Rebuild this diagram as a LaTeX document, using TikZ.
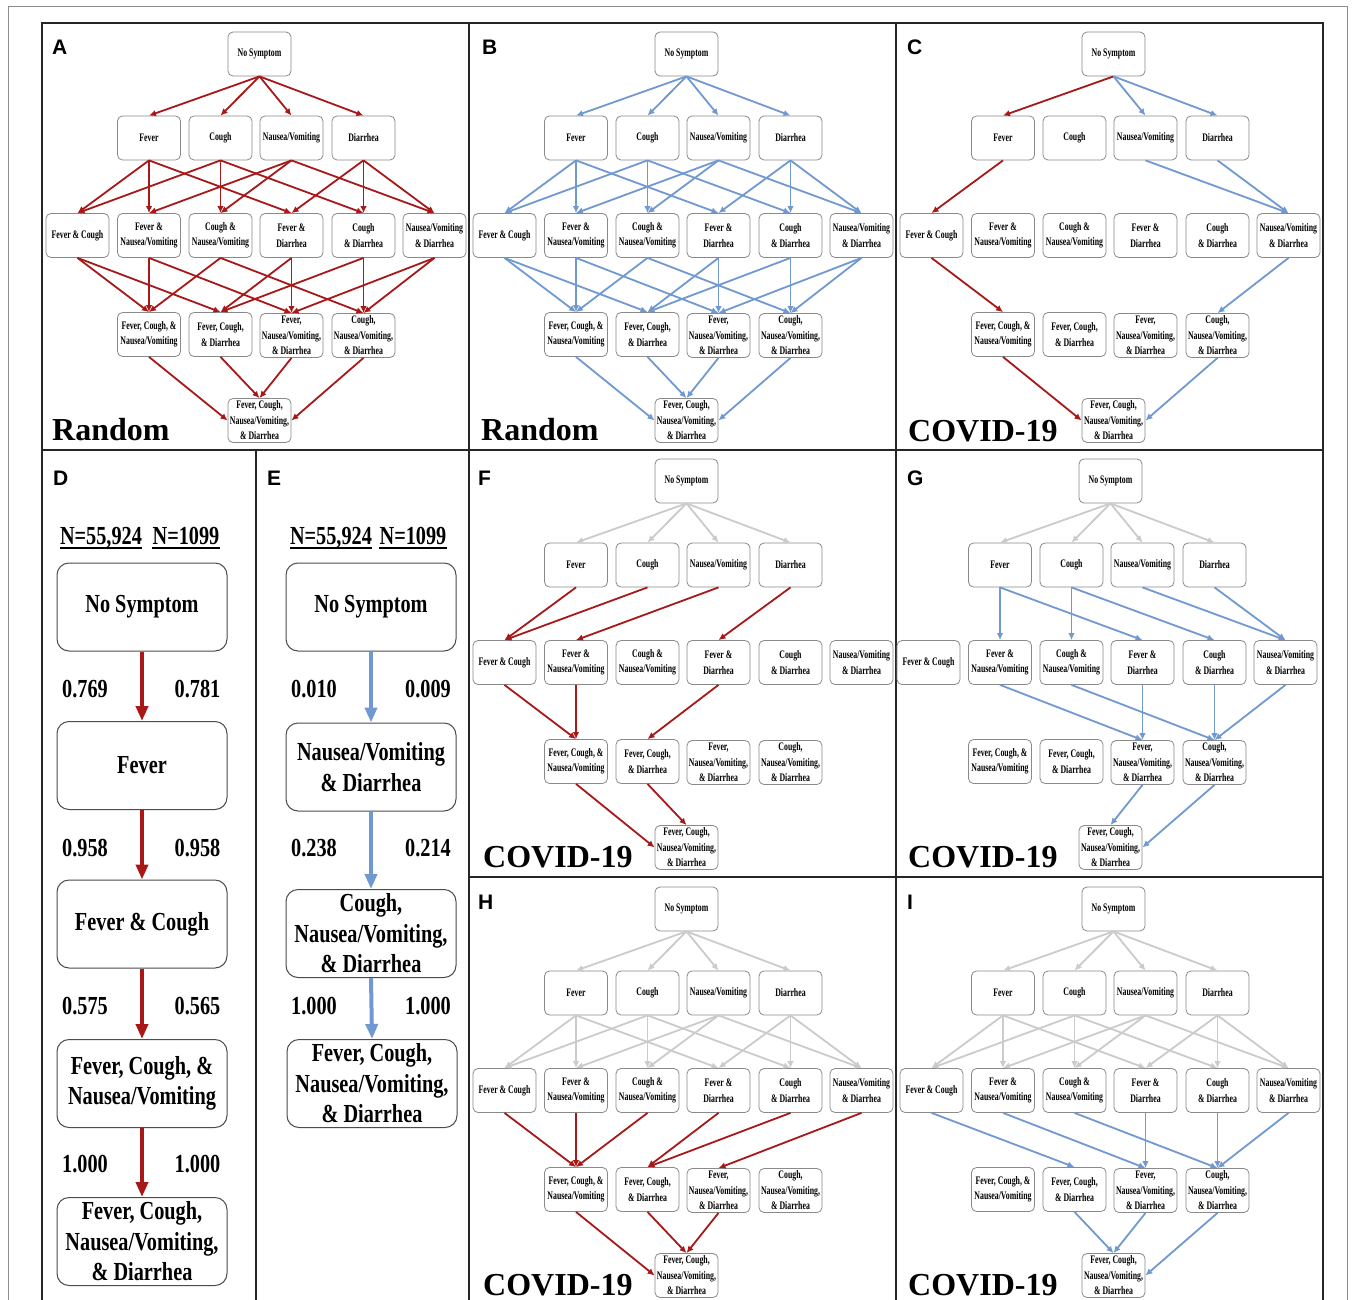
\documentclass[tikz,border=0pt]{standalone}
\usepackage{fontspec}
\setmainfont{Liberation Serif}
\newfontfamily\condf[FakeStretch=0.68]{Liberation Serif}
\newfontfamily\bigf[FakeStretch=0.78]{Liberation Serif}
\newfontfamily\labf{Liberation Sans}
\usetikzlibrary{arrows.meta}
\definecolor{cred}{HTML}{A81818}
\definecolor{cblue}{HTML}{7099D2}
\definecolor{cgray}{HTML}{CBCBCB}
\definecolor{cbox}{HTML}{8A8A8A}
\tikzset{
  sbox/.style={draw=cbox, line width=0.8pt, rounded corners=5pt, minimum width=63pt, minimum height=44pt, inner sep=0pt, align=center, fill=white, font=\condf\bfseries\fontsize{11.5}{15.5}\selectfont},
  bbox/.style={draw=black!70, line width=1pt, rounded corners=12pt, minimum width=170pt, minimum height=88pt, inner sep=0pt, align=center, font=\bigf\bfseries\fontsize{26}{30.5}\selectfont},
  numtxt/.style={inner sep=0pt, anchor=base, font=\bigf\bfseries\fontsize{26}{30}\selectfont},
  ar/.style={line width=1.8pt, -{Latex[length=7pt,width=6.5pt]}},
  rar/.style={ar, draw=cred},
  bar/.style={ar, draw=cblue},
  gar/.style={ar, draw=cgray},
  bigar/.style={line width=4pt, -{Triangle[length=15pt,width=12pt]}},
  plab/.style={inner sep=0pt, anchor=base west, font=\labf\bfseries\fontsize{21}{21}\selectfont},
  title/.style={inner sep=0pt, anchor=base west, font=\bfseries\fontsize{32}{32}\selectfont},
}
\newcommand\mklattice[3]{%
  \begin{scope}[shift={(#2,#3)}]
  \node[sbox] (#1-ns) at (217.5,31) {No Symptom};
  \node[sbox] (#1-F) at (107,115) {Fever};
  \node[sbox] (#1-C) at (178.5,115) {Cough};
  \node[sbox] (#1-N) at (249.5,115) {Nausea/Vomiting};
  \node[sbox] (#1-D) at (321.5,115) {Diarrhea};
  \node[sbox] (#1-FC) at (35.5,212.5) {Fever \& Cough};
  \node[sbox] (#1-FN) at (107,212.5) {Fever \&\\Nausea/Vomiting};
  \node[sbox] (#1-CN) at (178.5,212.5) {Cough \&\\Nausea/Vomiting};
  \node[sbox] (#1-FD) at (249.5,212.5) {Fever \&\\Diarrhea};
  \node[sbox] (#1-CD) at (321.5,212.5) {Cough\\\& Diarrhea};
  \node[sbox] (#1-ND) at (392.5,212.5) {Nausea/Vomiting\\\& Diarrhea};
  \node[sbox] (#1-FCN) at (107,311.5) {Fever, Cough, \&\\Nausea/Vomiting};
  \node[sbox] (#1-FCD) at (178.5,311.5) {Fever, Cough,\\\& Diarrhea};
  \node[sbox] (#1-FND) at (249.5,312.5) {Fever,\\Nausea/Vomiting,\\\& Diarrhea};
  \node[sbox] (#1-CND) at (321.5,312.5) {Cough,\\Nausea/Vomiting,\\\& Diarrhea};
  \node[sbox] (#1-all) at (217.5,397.5) {Fever, Cough,\\Nausea/Vomiting,\\\& Diarrhea};
  \end{scope}}
\newcommand\toprow[2]{\foreach \pb in {F,C,N,D} {\draw[#1] (#2-ns.south) -- (#2-\pb.north);}}
\newcommand\midrows[2]{\foreach \pa/\pb in {F/FC,F/FN,F/FD,C/FC,C/CN,C/CD,N/FN,N/CN,N/ND,D/FD,D/CD,D/ND} {\draw[#1] (#2-\pa.south) -- (#2-\pb.north);}}
\newcommand\lowrows[2]{\foreach \pa/\pb in {FC/FCN,FC/FCD,FN/FCN,FN/FND,CN/FCN,CN/CND,FD/FCD,FD/FND,CD/FCD,CD/CND,ND/FND,ND/CND} {\draw[#1] (#2-\pa.south) -- (#2-\pb.north);}}
\newcommand\lastrow[2]{\draw[#1] (#2-FCN.south) -- (#2-all.west);
  \draw[#1] (#2-FCD.south) -- (#2-all.north);
  \draw[#1] (#2-FND.south) -- (#2-all.north);
  \draw[#1] (#2-CND.south) -- (#2-all.east);}
\newcommand\ed[4]{\draw[#1] (#2-#3.south) -- (#2-#4.north);}
\begin{document}
\begin{tikzpicture}[x=1pt,y=-1pt]
\useasboundingbox (0,0) rectangle (1357,1300);
\fill[white] (0,0) rectangle (1357,1300);
% frames
\draw[black!45, line width=0.8pt] (8,6) rectangle (1347,1330);
\draw[black!85, line width=1.6pt] (42,23) rectangle (1323,1330);
\draw[black!85, line width=1.6pt] (42,450) -- (1323,450);
\draw[black!85, line width=1.6pt] (469,877) -- (1323,877);
\draw[black!85, line width=1.6pt] (469,23) -- (469,1330);
\draw[black!85, line width=1.6pt] (896,23) -- (896,1330);
\draw[black!85, line width=1.6pt] (256,450) -- (256,1330);
% panel labels and titles
\node[plab] (lA) at (52,55) {A};
\node[plab] (lB) at (482,55) {B};
\node[plab] (lC) at (907,55) {C};
\node[plab] (lD) at (53,485) {D};
\node[plab] (lE) at (267,485) {E};
\node[plab] (lF) at (478,485) {F};
\node[plab] (lG) at (907,485) {G};
\node[plab] (lH) at (478,909) {H};
\node[plab] (lI) at (907,909) {I};
\node[title] (tA) at (52,440) {Random};
\node[title] (tB) at (481,440) {Random};
\node[title] (tC) at (908,441) {COVID-19};
\node[title] (tF) at (483,867) {COVID-19};
\node[title] (tG) at (908,867) {COVID-19};
\node[title] (tH) at (483,1295) {COVID-19};
\node[title] (tI) at (908,1295) {COVID-19};
% lattices
\mklattice{A}{42}{23}
\mklattice{B}{469}{23}
\mklattice{C}{896}{23}
\mklattice{F}{469}{450}
\mklattice{G}{893}{450}
\mklattice{H}{469}{878}
\mklattice{I}{896}{878}
% A: all red
\toprow{rar}{A}\midrows{rar}{A}\lowrows{rar}{A}\lastrow{rar}{A}
% B: all blue
\toprow{bar}{B}\midrows{bar}{B}\lowrows{bar}{B}\lastrow{bar}{B}
% C
\ed{rar}{C}{ns}{F}\ed{rar}{C}{F}{FC}\ed{rar}{C}{FC}{FCN}
\draw[rar] (C-FCN.south) -- (C-all.west);
\ed{bar}{C}{ns}{N}\ed{bar}{C}{ns}{D}\ed{bar}{C}{N}{ND}\ed{bar}{C}{D}{ND}\ed{bar}{C}{ND}{CND}
\draw[bar] (C-CND.south) -- (C-all.east);
% F
\toprow{gar}{F}
\ed{rar}{F}{F}{FC}\ed{rar}{F}{C}{FC}\ed{rar}{F}{N}{FN}\ed{rar}{F}{D}{FD}
\ed{rar}{F}{FC}{FCN}\ed{rar}{F}{FN}{FCN}\ed{rar}{F}{FD}{FCD}
\draw[rar] (F-FCN.south) -- (F-all.west);
\draw[rar] (F-FCD.south) -- (F-all.north);
% G
\toprow{gar}{G}
\ed{bar}{G}{F}{FN}\ed{bar}{G}{F}{FD}\ed{bar}{G}{C}{CN}\ed{bar}{G}{C}{CD}\ed{bar}{G}{N}{ND}\ed{bar}{G}{D}{ND}
\ed{bar}{G}{FN}{FND}\ed{bar}{G}{CN}{CND}\ed{bar}{G}{FD}{FND}\ed{bar}{G}{CD}{CND}\ed{bar}{G}{ND}{CND}
\draw[bar] (G-FND.south) -- (G-all.north);
\draw[bar] (G-CND.south) -- (G-all.east);
% H
\toprow{gar}{H}\midrows{gar}{H}
\ed{rar}{H}{FC}{FCN}\ed{rar}{H}{FN}{FCN}\ed{rar}{H}{CN}{FCN}
\ed{rar}{H}{FD}{FCD}\ed{rar}{H}{CD}{FCD}\ed{rar}{H}{ND}{FND}
\draw[rar] (H-FCN.south) -- (H-all.west);
\draw[rar] (H-FCD.south) -- (H-all.north);
\draw[rar] (H-FND.south) -- (H-all.north);
% I
\toprow{gar}{I}\midrows{gar}{I}
\ed{bar}{I}{FC}{FCD}\ed{bar}{I}{FN}{FND}\ed{bar}{I}{CN}{CND}
\ed{bar}{I}{FD}{FND}\ed{bar}{I}{CD}{CND}\ed{bar}{I}{ND}{CND}
\draw[bar] (I-FCD.south) -- (I-all.north);
\draw[bar] (I-FND.south) -- (I-all.north);
\draw[bar] (I-CND.south) -- (I-all.east);
% D panel
\node[numtxt] (Dh1) at (101,544) {N=55,924};
\node[numtxt] (Dh2) at (186,544) {N=1099};
\draw[line width=1.6pt] ([yshift=-4pt]Dh1.base west) -- ([yshift=-4pt]Dh1.base east);
\draw[line width=1.6pt] ([yshift=-4pt]Dh2.base west) -- ([yshift=-4pt]Dh2.base east);
\node[bbox] (D1) at (142,607) {No Symptom};
\node[bbox] (D2) at (142,765.5) {Fever};
\node[bbox] (D3) at (142,924) {Fever \& Cough};
\node[bbox] (D4) at (142,1083.5) {Fever, Cough, \&\\Nausea/Vomiting};
\node[bbox] (D5) at (142,1241.5) {Fever, Cough,\\Nausea/Vomiting,\\\& Diarrhea};
\draw[bigar, draw=cred] (D1.south) -- (D2.north);
\draw[bigar, draw=cred] (D2.south) -- (D3.north);
\draw[bigar, draw=cred] (D3.south) -- (D4.north);
\draw[bigar, draw=cred] (D4.south) -- (D5.north);
\node[numtxt] (Dn1a) at (85,697) {0.769};
\node[numtxt] (Dn1b) at (197.5,697) {0.781};
\node[numtxt] (Dn2a) at (85,856) {0.958};
\node[numtxt] (Dn2b) at (197.5,856) {0.958};
\node[numtxt] (Dn3a) at (85,1014) {0.575};
\node[numtxt] (Dn3b) at (197.5,1014) {0.565};
\node[numtxt] (Dn4a) at (85,1172) {1.000};
\node[numtxt] (Dn4b) at (197.5,1172) {1.000};
% E panel
\node[numtxt] (Eh1) at (331,544) {N=55,924};
\node[numtxt] (Eh2) at (413,544) {N=1099};
\draw[line width=1.6pt] ([yshift=-4pt]Eh1.base west) -- ([yshift=-4pt]Eh1.base east);
\draw[line width=1.6pt] ([yshift=-4pt]Eh2.base west) -- ([yshift=-4pt]Eh2.base east);
\node[bbox] (E1) at (371,607) {No Symptom};
\node[bbox] (E2) at (371,767) {Nausea/Vomiting\\\& Diarrhea};
\node[bbox] (E3) at (371,933.5) {Cough,\\Nausea/Vomiting,\\\& Diarrhea};
\node[bbox] (E4) at (372,1083.5) {Fever, Cough,\\Nausea/Vomiting,\\\& Diarrhea};
\draw[bigar, draw=cblue] (E1.south) -- (E2.north);
\draw[bigar, draw=cblue] (E2.south) -- (E3.north);
\draw[bigar, draw=cblue] (E3.south) -- (E4.north);
\node[numtxt] (En1a) at (314,697) {0.010};
\node[numtxt] (En1b) at (428,697) {0.009};
\node[numtxt] (En2a) at (314,856) {0.238};
\node[numtxt] (En2b) at (428,856) {0.214};
\node[numtxt] (En3a) at (314,1014) {1.000};
\node[numtxt] (En3b) at (428,1014) {1.000};
\end{tikzpicture}
\end{document}
